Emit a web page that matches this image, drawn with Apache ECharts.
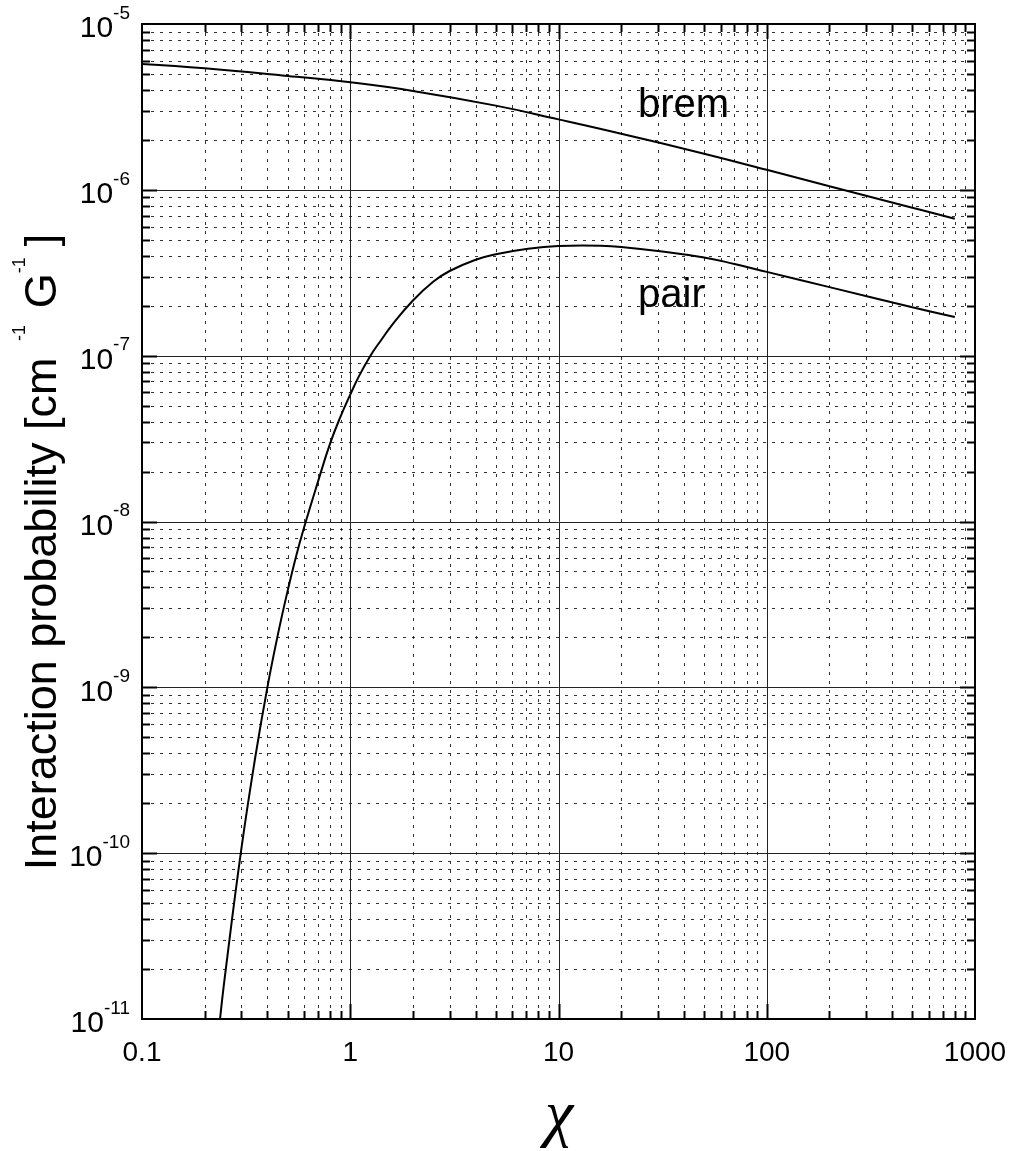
<!DOCTYPE html>
<html>
<head>
<meta charset="utf-8">
<script src="https://cdn.jsdelivr.net/npm/echarts@6/dist/echarts.min.js"></script>
<style>
html,body{margin:0;padding:0;background:#fff;}
#chart{width:1012px;height:1151px;}
</style>
</head>
<body>
<div id="chart"></div>
<script>
// ---- data ----
const bremChi  = [0.1, 0.2, 0.5, 1, 2, 5, 10, 20, 50, 100, 200, 500, 800];
const bremProb = [5.74e-6, 5.41e-6, 4.86e-6, 4.45e-6, 3.95e-6, 3.22e-6, 2.66e-6, 2.18e-6, 1.65e-6, 1.32e-6, 1.05e-6, 7.8e-7, 6.7e-7];

const pairChi  = [0.237, 0.25, 0.3, 0.35, 0.4, 0.45, 0.5, 0.55, 0.6, 0.7, 0.8, 0.9, 1.0, 1.1, 1.25, 1.4, 1.6, 2, 2.5, 3, 4, 5, 7, 10, 13, 16, 20, 30, 50, 70, 100, 200, 500, 800];
const pairProb = [1.0e-11, 1.8e-11, 1.06e-10, 3.8e-10, 1.0e-9, 2.1e-9, 3.8e-9, 6.2e-9, 9.2e-9, 1.74e-8, 2.95e-8, 4.32e-8, 5.82e-8, 7.5e-8, 1.0e-7, 1.23e-7, 1.55e-7, 2.15e-7, 2.79e-7, 3.24e-7, 3.79e-7, 4.09e-7, 4.40e-7, 4.59e-7, 4.62e-7, 4.6e-7, 4.52e-7, 4.28e-7, 3.91e-7, 3.57e-7, 3.2e-7, 2.59e-7, 1.96e-7, 1.71e-7];

const xTickLabels = ['0.1', '1', '10', '100', '1000'];
const yTickExponents = ['-11', '-10', '-9', '-8', '-7', '-6', '-5'];
const xDecades = [0.1, 1, 10, 100, 1000];
const yDecades = [1e-11, 1e-10, 1e-9, 1e-8, 1e-7, 1e-6, 1e-5];
const minorMultipliers = [2, 3, 4, 5, 6, 7, 8, 9];

const seriesLabels = ['brem', 'pair'];
const xTitle = 'χ';

// ---- tick/grid items (value positions for custom drawing) ----
const gridItems = [];
xDecades.forEach((d, i) => {
  gridItems.push([d, 1e-8, 0, 1]);
  if (i < xDecades.length - 1) minorMultipliers.forEach(m => gridItems.push([d * m, 1e-8, 0, 0]));
});
yDecades.forEach((d, i) => {
  gridItems.push([1, d, 1, 1]);
  if (i < yDecades.length - 1) minorMultipliers.forEach(m => gridItems.push([1, d * m, 1, 0]));
});

const chart = echarts.init(document.getElementById('chart'), null, {renderer: 'canvas'});
const FONT = 'Liberation Sans, Arial, Helvetica, sans-serif';

function renderGrid(params, api) {
  const cs = params.coordSys;
  const kind = api.value(2);
  const major = api.value(3) === 1;
  const L = major ? 15 : 8;
  const gridStyle = major
    ? {stroke: '#222', lineWidth: 1}
    : {stroke: '#333', lineWidth: 1, lineDash: [3, 6]};
  const tickStyle = {stroke: '#000', lineWidth: 2};
  const children = [];
  if (kind === 0) {
    const px = Math.round(api.coord([api.value(0), 1e-8])[0]) + 0.5;
    const y0 = cs.y, y1 = cs.y + cs.height;
    if (px > cs.x + 2 && px < cs.x + cs.width - 2) {
      children.push({type: 'line', shape: {x1: px, y1: y0, x2: px, y2: y1}, style: gridStyle});
      children.push({type: 'line', shape: {x1: px, y1: y1, x2: px, y2: y1 - L}, style: tickStyle});
      children.push({type: 'line', shape: {x1: px, y1: y0, x2: px, y2: y0 + L}, style: tickStyle});
    }
  } else {
    const py = Math.round(api.coord([1, api.value(1)])[1]) + 0.5;
    const x0 = cs.x, x1 = cs.x + cs.width;
    if (py > cs.y + 2 && py < cs.y + cs.height - 2) {
      children.push({type: 'line', shape: {x1: x0, y1: py, x2: x1, y2: py}, style: gridStyle});
      children.push({type: 'line', shape: {x1: x0, y1: py, x2: x0 + L, y2: py}, style: tickStyle});
      children.push({type: 'line', shape: {x1: x1, y1: py, x2: x1 - L, y2: py}, style: tickStyle});
    }
  }
  return {type: 'group', children: children};
}

const option = {
  animation: false,
  backgroundColor: '#fff',
  textStyle: {fontFamily: FONT},
  grid: {left: 142, top: 24, width: 833, height: 995, show: true, borderColor: '#000', borderWidth: 2, backgroundColor: 'transparent', containLabel: false},
  xAxis: {
    type: 'log', logBase: 10, min: 0.1, max: 1000,
    axisLine: {show: false}, axisTick: {show: false}, splitLine: {show: false},
    axisLabel: {
      show: true, showMinLabel: true, showMaxLabel: true, margin: 20,
      fontSize: 28, color: '#000', fontFamily: FONT,
      formatter: (v, i) => xTickLabels[i]
    }
  },
  yAxis: {
    type: 'log', logBase: 10, min: 1e-11, max: 1e-5,
    axisLine: {show: false}, axisTick: {show: false}, splitLine: {show: false},
    axisLabel: {
      show: true, showMinLabel: true, showMaxLabel: true, margin: 12,
      color: '#000', fontFamily: FONT,
      formatter: (v, i) => '{z| }{b|10}{s|' + yTickExponents[i] + '}',
      rich: {
        z: {fontSize: 1, lineHeight: 40, width: 0},
        b: {fontSize: 30, lineHeight: 30, verticalAlign: 'bottom', color: '#000', fontFamily: FONT},
        s: {fontSize: 19, lineHeight: 26, verticalAlign: 'top', color: '#000', fontFamily: FONT}
      }
    }
  },
  series: [
    {
      type: 'custom', silent: true, z: 1,
      renderItem: renderGrid,
      encode: {x: 0, y: 1},
      data: gridItems
    },
    {
      name: seriesLabels[0], type: 'line', z: 5, showSymbol: false, smooth: 0.45, clip: true,
      lineStyle: {color: '#000', width: 2},
      data: bremChi.map((c, i) => [c, bremProb[i]])
    },
    {
      name: seriesLabels[1], type: 'line', z: 5, showSymbol: false, smooth: 0.45, clip: true,
      lineStyle: {color: '#000', width: 2},
      data: pairChi.map((c, i) => [c, pairProb[i]])
    }
  ],
  graphic: [
    {type: 'text', x: 638, y: 106, z: 10, style: {text: seriesLabels[0], fontSize: 40, fontFamily: FONT, fill: '#000', align: 'left', verticalAlign: 'middle'}},
    {type: 'text', x: 638, y: 296, z: 10, style: {text: seriesLabels[1], fontSize: 40, fontFamily: FONT, fill: '#000', align: 'left', verticalAlign: 'middle'}},
    {type: 'text', x: 559, y: 1117, z: 10, style: {text: xTitle, fontSize: 64, fontFamily: 'Liberation Serif, DejaVu Serif, serif', fontStyle: 'italic', fill: '#000', align: 'center', verticalAlign: 'middle'}},
    {type: 'text', x: 44, y: 552, rotation: Math.PI / 2, z: 10,
      style: {
        text: '{t|Interaction probability [cm}{g|   }{s|-1}{g|   }{t|G}{s|-1}{g|  }{t|]}',
        align: 'center', verticalAlign: 'middle', fill: '#000',
        rich: {
          t: {fontSize: 45, lineHeight: 66, fontFamily: FONT, fill: '#000'},
          g: {fontSize: 20, lineHeight: 18, verticalAlign: 'top', fontFamily: FONT},
          s: {fontSize: 18, lineHeight: 18, verticalAlign: 'top', fontFamily: FONT, fill: '#000'}
        }
      }
    }
  ]
};
chart.setOption(option);
</script>
</body>
</html>
